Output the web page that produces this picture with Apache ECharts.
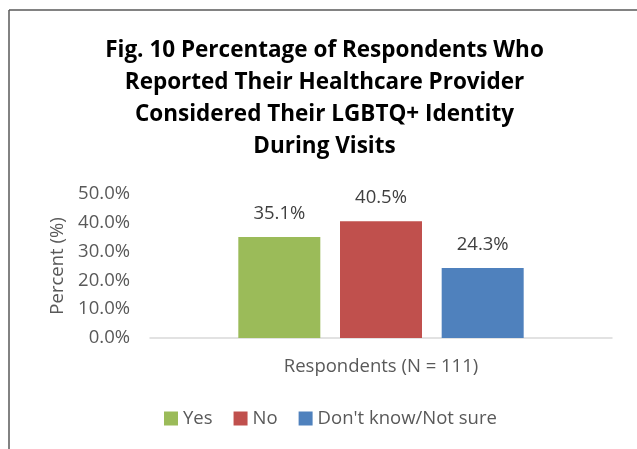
<!DOCTYPE html>
<html><head><meta charset="utf-8">
<script src="https://cdn.jsdelivr.net/npm/echarts@6/dist/echarts.min.js"></script>
<style>html,body{margin:0;padding:0;background:#fff}#c{width:637px;height:449px}</style>
</head><body><div id="c"></div>
<script>
const titleLines = ['Fig. 10 Percentage of Respondents Who','Reported Their Healthcare Provider','Considered Their LGBTQ+ Identity','During Visits'];
const category = ['Respondents (N = 111)'];
const seriesNames = ['Yes', 'No', "Don't know/Not sure"];
const seriesValues = [[35.1], [40.5], [24.3]];
const seriesColors = ['#9BBB59', '#C0504D', '#4F81BD'];
const yTicks = [0, 10, 20, 30, 40, 50];

const FONT = 'Open Sans';
const FS = 18.5;
const chart = echarts.init(document.getElementById('c'), null, {renderer: 'canvas'});
chart.setOption({
  animation: false,
  backgroundColor: '#fff',
  textStyle: {fontFamily: FONT},
  title: {
    text: titleLines.join('\n'),
    left: 319.5, top: 29, textAlign: 'center',
    textStyle: {fontFamily: FONT, fontWeight: 'bold', fontSize: 22.5, lineHeight: 32.3, color: '#000'}
  },
  legend: {
    bottom: 16, left: 159,
    itemWidth: 14, itemHeight: 14, itemGap: 21,
    icon: 'rect',
    textStyle: {fontFamily: FONT, fontSize: FS, color: '#595959'},
    data: seriesNames
  },
  grid: {left: 150, right: 25, top: 194, bottom: 111, containLabel: false},
  xAxis: {
    type: 'category', data: category,
    axisLine: {lineStyle: {color: '#D9D9D9', width: 1.5}},
    axisTick: {show: false},
    axisLabel: {show: false},
    name: category[0], nameLocation: 'middle', nameGap: 19.5,
    nameTextStyle: {fontFamily: FONT, fontSize: FS, color: '#595959'}
  },
  yAxis: {
    type: 'value', min: yTicks[0], max: yTicks[yTicks.length-1], interval: 10,
    splitLine: {show: false}, axisLine: {show: false}, axisTick: {show: false},
    axisLabel: {formatter: v => v.toFixed(1) + '%', fontFamily: FONT, fontSize: FS, color: '#595959', margin: 20},
    name: 'Percent (%)', nameLocation: 'middle', nameGap: 83, nameRotate: 90,
    nameTextStyle: {fontFamily: FONT, fontSize: FS, color: '#595959'}
  },
  series: seriesNames.map((n, i) => ({
    name: n, type: 'bar', data: seriesValues[i],
    barWidth: 82, barGap: '24%',
    itemStyle: {color: seriesColors[i]},
    label: {show: true, position: 'top', distance: 14, formatter: p => p.value.toFixed(1) + '%',
      fontFamily: FONT, fontSize: FS, color: '#404040'}
  })),
  graphic: [
    {type: 'line', shape: {x1: 9, y1: 10, x2: 637, y2: 10}, style: {stroke: '#595959', lineWidth: 1.5}},
    {type: 'line', shape: {x1: 9, y1: 10, x2: 9, y2: 449}, style: {stroke: '#595959', lineWidth: 1.5}}
  ]
});
</script></body></html>
